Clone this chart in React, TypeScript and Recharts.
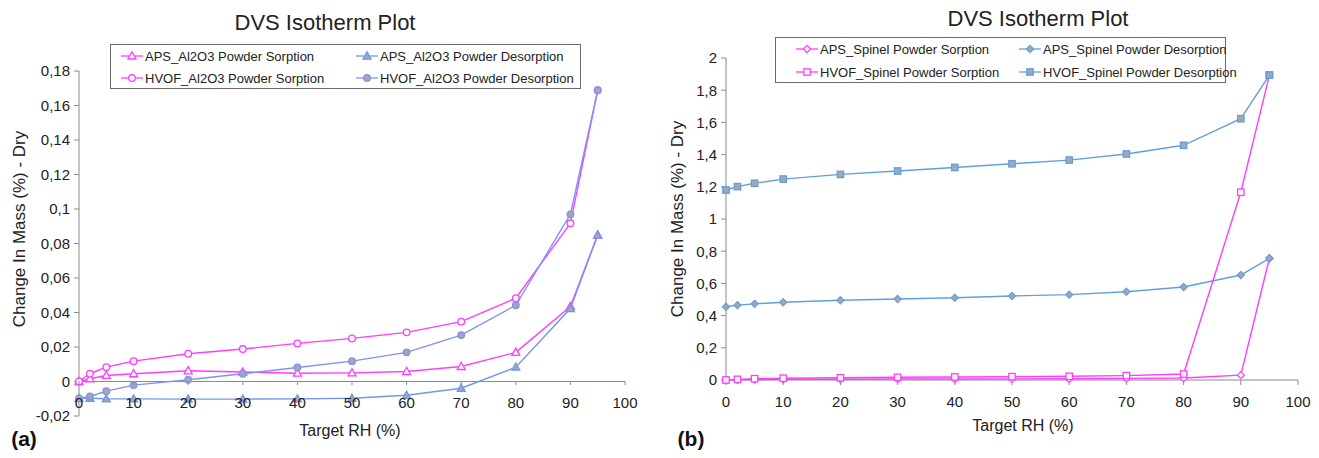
import { FC } from "react";
import {
  LineChart,
  Line,
  XAxis,
  YAxis,
  Legend,
  ReferenceLine,
} from "recharts";

// relative humidity steps shared by every series
const rh = [0, 2, 5, 10, 20, 30, 40, 50, 60, 70, 80, 90, 95];

// (a) Al2O3 powders
const apsAl2o3Sorption = [0, 0.0016, 0.0035, 0.0045, 0.0062, 0.0055, 0.0048, 0.005, 0.0058, 0.0087, 0.0169, 0.0435, 0.0849];
const apsAl2o3Desorption = [-0.0098, -0.0097, -0.01, -0.0101, -0.0102, -0.0102, -0.0101, -0.0097, -0.008, -0.0039, 0.0083, 0.0423, 0.0849];
const hvofAl2o3Sorption = [0, 0.0045, 0.0083, 0.0118, 0.0161, 0.0188, 0.0221, 0.025, 0.0285, 0.0347, 0.0483, 0.0917, 0.1688];
const hvofAl2o3Desorption = [-0.0098, -0.0087, -0.0056, -0.0021, 0.001, 0.0045, 0.0081, 0.0118, 0.0169, 0.0269, 0.0442, 0.0969, 0.1688];

// (b) Spinel powders
const apsSpinelSorption = [0, 0.001, 0.003, 0.004, 0.005, 0.006, 0.006, 0.007, 0.008, 0.01, 0.012, 0.03, 0.756];
const apsSpinelDesorption = [0.455, 0.465, 0.473, 0.483, 0.495, 0.503, 0.511, 0.522, 0.53, 0.548, 0.578, 0.652, 0.756];
const hvofSpinelSorption = [0, 0.004, 0.008, 0.011, 0.014, 0.017, 0.019, 0.021, 0.023, 0.027, 0.037, 1.166, 1.894];
const hvofSpinelDesorption = [1.18, 1.201, 1.222, 1.248, 1.277, 1.298, 1.32, 1.343, 1.366, 1.404, 1.458, 1.623, 1.894];

const xTicks = [0, 10, 20, 30, 40, 50, 60, 70, 80, 90, 100];
const leftYTicks = [-0.02, 0, 0.02, 0.04, 0.06, 0.08, 0.1, 0.12, 0.14, 0.16, 0.18];
const rightYTicks = [0, 0.2, 0.4, 0.6, 0.8, 1, 1.2, 1.4, 1.6, 1.8, 2];

const leftData = rh.map((x, i) => ({
  rh: x,
  apsSorp: apsAl2o3Sorption[i],
  apsDesorp: apsAl2o3Desorption[i],
  hvofSorp: hvofAl2o3Sorption[i],
  hvofDesorp: hvofAl2o3Desorption[i],
}));

const rightData = rh.map((x, i) => ({
  rh: x,
  apsSorp: apsSpinelSorption[i],
  apsDesorp: apsSpinelDesorption[i],
  hvofSorp: hvofSpinelSorption[i],
  hvofDesorp: hvofSpinelDesorption[i],
}));

const FONT = '"Liberation Sans", Arial, sans-serif';
const PINK = "#ff3dff";
const BLUE_L = "#7197ee";
const BLUE_L2 = "#8392f0";
const BLUE_R = "#629fe0";
const GRAY_FILL = "#a3a7b3";
const AXIS = "#8a8a8a";

type Shape = "circle" | "triangle" | "diamond" | "square";

const Marker: FC<{ shape: Shape; cx: number; cy: number; stroke: string; fill: string }> = ({
  shape,
  cx,
  cy,
  stroke,
  fill,
}) => {
  if (shape === "circle")
    return <circle cx={cx} cy={cy} r={3.3} stroke={stroke} fill={fill} strokeWidth={1.3} />;
  if (shape === "triangle")
    return (
      <polygon
        points={`${cx},${cy - 4.2} ${cx - 4},${cy + 3} ${cx + 4},${cy + 3}`}
        stroke={stroke}
        fill={fill}
        strokeWidth={1.3}
      />
    );
  if (shape === "diamond")
    return (
      <polygon
        points={`${cx},${cy - 3.6} ${cx + 3.6},${cy} ${cx},${cy + 3.6} ${cx - 3.6},${cy}`}
        stroke={stroke}
        fill={fill}
        strokeWidth={1.2}
      />
    );
  return <rect x={cx - 3.2} y={cy - 3.2} width={6.4} height={6.4} stroke={stroke} fill={fill} strokeWidth={1.3} />;
};

const makeDot = (shape: Shape, stroke: string, fill: string) => (p: any) => {
  const { cx, cy, index } = p;
  if (cx == null || cy == null) return <g key={index} />;
  return <Marker key={index} shape={shape} cx={cx} cy={cy} stroke={stroke} fill={fill} />;
};

interface SeriesDef {
  key: string;
  name: string;
  color: string;
  shape: Shape;
  fill: string;
}

const leftSeries: SeriesDef[] = [
  { key: "apsSorp", name: "APS_Al2O3 Powder Sorption", color: PINK, shape: "triangle", fill: "#fff" },
  { key: "apsDesorp", name: "APS_Al2O3 Powder Desorption", color: BLUE_L, shape: "triangle", fill: GRAY_FILL },
  { key: "hvofSorp", name: "HVOF_Al2O3 Powder Sorption", color: PINK, shape: "circle", fill: "#fff" },
  { key: "hvofDesorp", name: "HVOF_Al2O3 Powder Desorption", color: BLUE_L2, shape: "circle", fill: GRAY_FILL },
];

const rightSeries: SeriesDef[] = [
  { key: "apsSorp", name: "APS_Spinel Powder Sorption", color: PINK, shape: "diamond", fill: "#fff" },
  { key: "apsDesorp", name: "APS_Spinel Powder Desorption", color: BLUE_R, shape: "diamond", fill: GRAY_FILL },
  { key: "hvofSorp", name: "HVOF_Spinel Powder Sorption", color: PINK, shape: "square", fill: "#fff" },
  { key: "hvofDesorp", name: "HVOF_Spinel Powder Desorption", color: BLUE_R, shape: "square", fill: GRAY_FILL },
];

const commaFmt = (v: number) => String(v).replace(".", ",");

// legend keeps the series order (row-major 2x2), not the library's sorted order
const makeLegend = (series: SeriesDef[], colWidth: number, padLeft: number, rowGap: number) => () => (
  <div
    style={{
      border: "1px solid #6a6a6a",
      background: "#fff",
      boxSizing: "border-box",
      width: "100%",
      height: "100%",
      paddingLeft: padLeft,
      paddingTop: 3,
      display: "grid",
      gridTemplateColumns: `${colWidth}px auto`,
      rowGap,
      fontFamily: FONT,
      fontSize: 13,
      color: "#222",
    }}
  >
    {series.map((s) => (
      <div key={s.key} style={{ display: "flex", alignItems: "center", height: 16, whiteSpace: "nowrap" }}>
        <svg width={22} height={12} style={{ marginRight: 2 }}>
          <line x1={0} x2={22} y1={6} y2={6} stroke={s.color} strokeWidth={1.3} />
          <Marker shape={s.shape} cx={11} cy={6} stroke={s.color} fill={s.fill} />
        </svg>
        <span>{s.name}</span>
      </div>
    ))}
  </div>
);

// x ticks of panel (a) sit on the zero line, 35px above the plot bottom
const LeftXTick: FC<any> = ({ x, y, payload }) => (
  <g>
    <line x1={x} x2={x} y1={y - 35} y2={y - 31} stroke={AXIS} />
    <text x={x} y={y - 8} textAnchor="middle" fontSize={15} fill="#222" fontFamily={FONT}>
      {payload.value}
    </text>
  </g>
);

const tickStyle = { fontSize: 15, fill: "#222", fontFamily: FONT };

const absText = (
  text: string,
  x: number,
  y: number,
  size: number,
  extra: Record<string, string | number> = {},
  rotate = 0
) => (
  <div
    style={{
      position: "absolute",
      left: x,
      top: y,
      transform: `translate(-50%, -50%) rotate(${rotate}deg)`,
      whiteSpace: "nowrap",
      fontFamily: FONT,
      fontSize: size,
      color: "#222",
      lineHeight: 1,
      ...extra,
    }}
  >
    {text}
  </div>
);

const App: FC = () => {
  return (
    <div
      style={{
        position: "absolute",
        left: 0,
        top: 0,
        width: 1319,
        height: 458,
        background: "#fff",
        overflow: "hidden",
      }}
    >
      <div style={{ position: "absolute", left: 0, top: 0 }}>
        <LineChart width={660} height={458} data={leftData} margin={{ top: 71, right: 35, bottom: 12, left: 0 }}>
          <XAxis
            type="number"
            dataKey="rh"
            domain={[0, 100]}
            ticks={xTicks}
            interval={0}
            axisLine={false}
            tickLine={false}
            tickSize={0}
            tickMargin={0}
            height={30}
            tick={<LeftXTick />}
          />
          <YAxis
            type="number"
            domain={[-0.02, 0.18]}
            ticks={leftYTicks}
            interval={0}
            width={79}
            tickFormatter={commaFmt}
            axisLine={{ stroke: AXIS }}
            tickLine={{ stroke: AXIS }}
            tickSize={5}
            tickMargin={4}
            tick={tickStyle}
          />
          <ReferenceLine y={0} stroke={AXIS} />
          <Legend
            layout="horizontal"
            verticalAlign="middle"
            align="center"
            wrapperStyle={{ position: "absolute", left: 110, top: 44, width: 471, height: 45 }}
            content={makeLegend(leftSeries, 235, 10, 4)}
          />
          {leftSeries.map((s) => (
            <Line
              key={s.key}
              type="linear"
              dataKey={s.key}
              name={s.name}
              stroke={s.color}
              strokeWidth={1.4}
              dot={makeDot(s.shape, s.color, s.fill)}
              activeDot={false}
              isAnimationActive={false}
            />
          ))}
        </LineChart>
      </div>

      <div style={{ position: "absolute", left: 660, top: 0 }}>
        <LineChart width={659} height={458} data={rightData} margin={{ top: 58, right: 21, bottom: 38, left: 0 }}>
          <XAxis
            type="number"
            dataKey="rh"
            domain={[0, 100]}
            ticks={xTicks}
            interval={0}
            height={40}
            axisLine={{ stroke: AXIS }}
            tickLine={{ stroke: AXIS }}
            tickSize={5}
            tickMargin={11}
            tick={tickStyle}
          />
          <YAxis
            type="number"
            domain={[0, 2]}
            ticks={rightYTicks}
            interval={0}
            width={66}
            tickFormatter={commaFmt}
            axisLine={{ stroke: AXIS }}
            tickLine={{ stroke: AXIS }}
            tickSize={5}
            tickMargin={4}
            tick={tickStyle}
          />
          <Legend
            layout="horizontal"
            verticalAlign="middle"
            align="center"
            wrapperStyle={{ position: "absolute", left: 115, top: 37, width: 451, height: 46 }}
            content={makeLegend(rightSeries, 223, 20, 5)}
          />
          {rightSeries.map((s) => (
            <Line
              key={s.key}
              type="linear"
              dataKey={s.key}
              name={s.name}
              stroke={s.color}
              strokeWidth={1.4}
              dot={makeDot(s.shape, s.color, s.fill)}
              activeDot={false}
              isAnimationActive={false}
            />
          ))}
        </LineChart>
      </div>

      {absText("DVS Isotherm Plot", 325, 23, 22)}
      {absText("DVS Isotherm Plot", 1038, 19, 22)}
      {absText("Change In Mass (%) - Dry", 19, 229, 17, {}, -90)}
      {absText("Change In Mass (%) - Dry", 677, 219, 17, {}, -90)}
      {absText("Target RH (%)", 350, 431, 16)}
      {absText("Target RH (%)", 1023, 426, 16)}
      {absText("(a)", 24, 438, 21, { fontWeight: "bold", color: "#111" })}
      {absText("(b)", 691, 438, 21, { fontWeight: "bold", color: "#111" })}
    </div>
  );
};

export default App;
